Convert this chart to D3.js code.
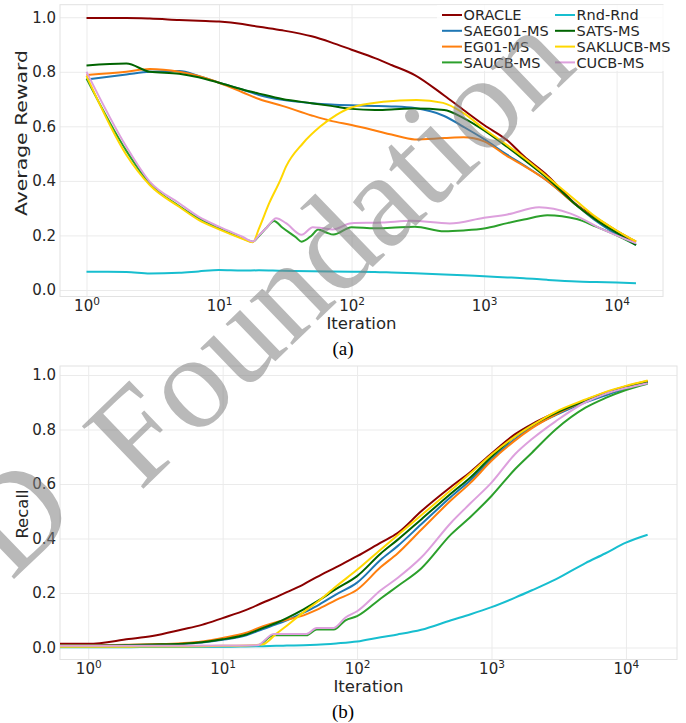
<!DOCTYPE html>
<html>
<head>
<meta charset="utf-8">
<script src="https://cdn.jsdelivr.net/npm/d3@7"></script>
<style>
  body { margin: 0; background: #fff; }
  svg { display: block; }
</style>
</head>
<body>
<div id="chart"></div>
<script>
// ---- data: (a) average reward ----
const iterTop = [1, 2, 3, 5, 7, 10, 15, 20, 30, 50, 70, 100, 150, 200, 300, 500, 700, 1000, 1500, 2000, 3000, 5000, 7000, 10000, 14000];
const rwOracle = [0.997, 0.997, 0.995, 0.99, 0.987, 0.984, 0.975, 0.965, 0.952, 0.93, 0.908, 0.881, 0.85, 0.825, 0.788, 0.713, 0.66, 0.605, 0.548, 0.49, 0.42, 0.312, 0.264, 0.217, 0.177];
const rwSaeg = [0.772, 0.79, 0.80, 0.803, 0.785, 0.76, 0.735, 0.715, 0.697, 0.685, 0.68, 0.677, 0.675, 0.673, 0.667, 0.638, 0.598, 0.553, 0.495, 0.457, 0.40, 0.31, 0.253, 0.204, 0.165];
const rwEg = [0.788, 0.80, 0.81, 0.80, 0.785, 0.76, 0.725, 0.70, 0.675, 0.64, 0.62, 0.605, 0.585, 0.57, 0.552, 0.557, 0.56, 0.545, 0.49, 0.455, 0.40, 0.31, 0.258, 0.213, 0.175];
const rwRnd = [0.067, 0.066, 0.06, 0.063, 0.068, 0.073, 0.071, 0.072, 0.07, 0.069, 0.068, 0.067, 0.066, 0.064, 0.061, 0.057, 0.054, 0.05, 0.046, 0.043, 0.037, 0.031, 0.029, 0.027, 0.025];
const rwSats = [0.823, 0.83, 0.80, 0.793, 0.78, 0.76, 0.735, 0.72, 0.70, 0.685, 0.675, 0.664, 0.66, 0.662, 0.665, 0.66, 0.63, 0.585, 0.524, 0.478, 0.41, 0.31, 0.257, 0.21, 0.165];

const iterTopKl = [1, 2, 3, 5, 7, 10, 15, 18, 20, 24, 29, 32, 43, 58, 77, 97, 173, 310, 490, 695, 980, 1500, 2000, 3000, 5000, 7000, 10000, 14000];
const rwSaklucb = [0.785, 0.495, 0.385, 0.305, 0.257, 0.222, 0.188, 0.175, 0.225, 0.32, 0.403, 0.452, 0.538, 0.599, 0.642, 0.667, 0.69, 0.697, 0.686, 0.649, 0.594, 0.53, 0.485, 0.415, 0.325, 0.267, 0.218, 0.178];

const iterTopUcb = [1, 2, 3, 5, 7, 10, 15, 18, 20, 23, 26, 30, 38, 42, 50, 56, 65, 73, 100, 150, 200, 300, 500, 700, 1000, 1500, 2000, 3000, 5000, 7000, 10000, 14000];
const rwSaucb = [0.775, 0.51, 0.39, 0.308, 0.263, 0.226, 0.19, 0.177, 0.198, 0.23, 0.253, 0.229, 0.193, 0.177, 0.2, 0.222, 0.21, 0.203, 0.23, 0.226, 0.228, 0.232, 0.215, 0.218, 0.225, 0.245, 0.258, 0.274, 0.26, 0.232, 0.2, 0.165];

const iterTopCucb = [1, 2, 3, 5, 7, 10, 15, 18, 20, 23, 27, 32, 42, 51, 60, 72, 100, 170, 280, 550, 1000, 1500, 2600, 4500, 8000, 14000];
const rwCucb = [0.80, 0.525, 0.397, 0.318, 0.269, 0.232, 0.195, 0.178, 0.2, 0.23, 0.263, 0.245, 0.202, 0.23, 0.227, 0.222, 0.245, 0.247, 0.254, 0.244, 0.265, 0.277, 0.303, 0.28, 0.22, 0.171];

// ---- data: (b) recall (first entry is the iteration-0 value) ----
const iterBot = [0.5, 1, 2, 3, 5, 7, 10, 15, 20, 25, 30, 40, 50, 70, 100, 150, 200, 300, 500, 700, 1000, 1500, 2000, 3000, 5000, 7000, 10000, 14500];
const rcOracle = [0.0136, 0.0136, 0.031, 0.042, 0.066, 0.083, 0.108, 0.138, 0.165, 0.185, 0.203, 0.232, 0.258, 0.295, 0.335, 0.385, 0.42, 0.5, 0.59, 0.645, 0.712, 0.783, 0.82, 0.862, 0.908, 0.935, 0.958, 0.975];
const rcSaeg = [0.006, 0.006, 0.008, 0.01, 0.013, 0.018, 0.028, 0.045, 0.068, 0.085, 0.1, 0.128, 0.152, 0.195, 0.238, 0.322, 0.372, 0.452, 0.553, 0.615, 0.69, 0.765, 0.808, 0.853, 0.9, 0.925, 0.95, 0.972];
const rcEg = [0.008, 0.008, 0.01, 0.012, 0.016, 0.022, 0.035, 0.054, 0.078, 0.093, 0.102, 0.118, 0.138, 0.175, 0.212, 0.295, 0.345, 0.432, 0.54, 0.605, 0.685, 0.76, 0.805, 0.855, 0.905, 0.932, 0.958, 0.978];
const rcRnd = [0.001, 0.001, 0.001, 0.002, 0.002, 0.003, 0.003, 0.004, 0.005, 0.006, 0.007, 0.008, 0.01, 0.015, 0.022, 0.038, 0.048, 0.065, 0.1, 0.122, 0.148, 0.183, 0.21, 0.25, 0.31, 0.345, 0.385, 0.414];
const rcSats = [0.007, 0.007, 0.009, 0.011, 0.014, 0.019, 0.03, 0.048, 0.072, 0.09, 0.108, 0.14, 0.168, 0.215, 0.262, 0.345, 0.395, 0.47, 0.565, 0.625, 0.7, 0.775, 0.815, 0.86, 0.905, 0.93, 0.955, 0.975];
const rcSaklucb = [0.003, 0.003, 0.003, 0.004, 0.004, 0.005, 0.006, 0.007, 0.012, 0.05, 0.08, 0.13, 0.165, 0.225, 0.285, 0.36, 0.412, 0.485, 0.578, 0.64, 0.708, 0.775, 0.815, 0.865, 0.91, 0.937, 0.96, 0.98];

const iterBotSteps = [0.5, 1, 5, 10, 18, 24, 42, 50, 67, 82, 100, 150, 200, 300, 500, 700, 1000, 1500, 2000, 3000, 5000, 7000, 10000, 14500];
const rcSaucb = [0.004, 0.004, 0.004, 0.005, 0.006, 0.045, 0.045, 0.066, 0.066, 0.1, 0.115, 0.18, 0.225, 0.29, 0.415, 0.48, 0.556, 0.655, 0.715, 0.8, 0.88, 0.915, 0.945, 0.968];
const rcCucb = [0.006, 0.006, 0.006, 0.007, 0.008, 0.05, 0.05, 0.072, 0.072, 0.11, 0.133, 0.21, 0.255, 0.33, 0.458, 0.53, 0.605, 0.71, 0.765, 0.83, 0.9, 0.93, 0.952, 0.97];

const xTickVals = [1, 10, 100, 1000, 10000];
const yTickVals = [0, 0.2, 0.4, 0.6, 0.8, 1.0];

// plot order = legend order (2 columns, filled column-wise)
const names = ["ORACLE", "SAEG01-MS", "EG01-MS", "SAUCB-MS", "Rnd-Rnd", "SATS-MS", "SAKLUCB-MS", "CUCB-MS"];
const colors = ["#8b0000", "#1f77b4", "#ff7f0e", "#2ca02c", "#17becf", "#006400", "#ffd700", "#dda0dd"];

const topSeries = [
  [iterTop, rwOracle], [iterTop, rwSaeg], [iterTop, rwEg], [iterTopUcb, rwSaucb],
  [iterTop, rwRnd], [iterTop, rwSats], [iterTopKl, rwSaklucb], [iterTopCucb, rwCucb]
];
const botSeries = [
  [iterBot, rcOracle], [iterBot, rcSaeg], [iterBot, rcEg], [iterBotSteps, rcSaucb],
  [iterBot, rcRnd], [iterBot, rcSats], [iterBot, rcSaklucb], [iterBotSteps, rcCucb]
];

const W = 686, H = 723;
const gridColor = "#ebebeb", spineColor = "#e2e2e2", textColor = "#262626";

const svg = d3.select("#chart").append("svg")
  .attr("width", W).attr("height", H)
  .attr("font-family", "'DejaVu Sans', sans-serif");

function panel(id, x, y, series, ylabel, ylabelCfg, caption) {
  const [x0, x1] = x.range();
  const [y0, y1] = y.range();
  const g = svg.append("g");

  // grid
  g.append("g").attr("transform", `translate(0,${y0})`)
    .call(d3.axisBottom(x).tickValues(xTickVals).tickSize(-(y0 - y1)).tickFormat(""))
    .call(a => a.select(".domain").remove())
    .call(a => a.selectAll("line").attr("stroke", gridColor));
  g.append("g").attr("transform", `translate(${x0},0)`)
    .call(d3.axisLeft(y).tickValues(yTickVals).tickSize(-(x1 - x0)).tickFormat(""))
    .call(a => a.select(".domain").remove())
    .call(a => a.selectAll("line").attr("stroke", gridColor));

  g.append("rect")
    .attr("x", x0).attr("y", y1).attr("width", x1 - x0).attr("height", y0 - y1)
    .attr("fill", "none").attr("stroke", spineColor);

  g.append("clipPath").attr("id", id)
    .append("rect").attr("x", x0).attr("y", y1).attr("width", x1 - x0).attr("height", y0 - y1);

  const line = d3.line().curve(d3.curveMonotoneX);
  const lines = g.append("g").attr("clip-path", `url(#${id})`);
  series.forEach(([xs, ys], i) => {
    lines.append("path")
      .attr("d", line(xs.map((v, j) => [x(v), y(ys[j])])))
      .attr("fill", "none")
      .attr("stroke", colors[i])
      .attr("stroke-width", 2)
      .attr("stroke-linejoin", "round");
  });

  // x tick labels with superscript exponent
  const xa = g.append("g").attr("transform", `translate(0,${y0})`)
    .call(d3.axisBottom(x).tickValues(xTickVals).tickSize(0).tickPadding(3.5))
    .attr("font-family", "'DejaVu Sans', sans-serif").attr("font-size", 15).attr("color", textColor);
  xa.select(".domain").remove();
  xa.selectAll(".tick text").text(null).each(function (d) {
    const t = d3.select(this);
    t.append("tspan").text("10");
    t.append("tspan").attr("dy", "-0.5em").attr("font-size", 10.5).text(Math.round(Math.log10(d)));
  });

  const ya = g.append("g").attr("transform", `translate(${x0},0)`)
    .call(d3.axisLeft(y).tickValues(yTickVals).tickSize(0).tickPadding(4).tickFormat(d3.format(".1f")))
    .attr("font-family", "'DejaVu Sans', sans-serif").attr("font-size", 15).attr("color", textColor);
  ya.select(".domain").remove();

  g.append("text")
    .attr("x", (x0 + x1) / 2).attr("y", y0 + 32)
    .attr("text-anchor", "middle").attr("font-size", 16.5).attr("fill", textColor)
    .text("Iteration");

  const yl = g.append("text")
    .attr("transform", `translate(${ylabelCfg.x},${ylabelCfg.y}) rotate(-90)`)
    .attr("text-anchor", "middle").attr("font-size", 16.5).attr("fill", textColor)
    .text(ylabel);
  if (ylabelCfg.len) yl.attr("textLength", ylabelCfg.len).attr("lengthAdjust", "spacingAndGlyphs");

  svg.append("text")
    .attr("x", W / 2).attr("y", y0 + 58)
    .attr("text-anchor", "middle")
    .attr("font-family", "'Liberation Serif', 'Times New Roman', serif")
    .attr("font-size", 19).attr("fill", "#000")
    .text(caption);

  return g;
}

// (a)
const xTop = d3.scaleLog().domain([Math.pow(10, -0.2), Math.pow(10, 4.35)]).range([60, 663]).clamp(true);
const yTop = d3.scaleLinear().domain([-0.024, 1.046]).range([296.5, 4.7]);
const gTop = panel("clipTop", xTop, yTop, topSeries, "Average Reward", { x: 27, y: 133, len: 166 }, "(a)");

// legend
const leg = gTop.append("g");
leg.append("rect").attr("x", 437).attr("y", 5).attr("width", 235).attr("height", 66)
  .attr("fill", "#fff").attr("opacity", 0.8);
names.forEach((n, i) => {
  const col = Math.floor(i / 4), row = i % 4;
  const lx = col === 0 ? 442 : 555;
  const ly = 15 + row * 15.8;
  leg.append("line").attr("x1", lx).attr("x2", lx + 20).attr("y1", ly).attr("y2", ly)
    .attr("stroke", colors[i]).attr("stroke-width", 2);
  leg.append("text").attr("x", lx + 21.5).attr("y", ly).attr("dy", "0.36em")
    .attr("font-size", 14.5).attr("fill", textColor).text(n);
});

// (b)
const xBot = d3.scaleLog().domain([Math.pow(10, -0.21), Math.pow(10, 4.38)]).range([60, 677]).clamp(true);
const yBot = d3.scaleLinear().domain([-0.044, 1.033]).range([659.5, 366]);
panel("clipBot", xBot, yBot, botSeries, "Recall", { x: 28, y: 514 }, "(b)");

// watermark
const wm = svg.append("text")
  .attr("transform", "translate(140,492) rotate(-44)")
  .attr("font-family", "'Liberation Serif', 'Times New Roman', serif")
  .attr("font-size", 134)
  .attr("fill", "#808080").attr("opacity", 0.55);
wm.append("tspan").attr("x", -155).attr("y", -25).text("D");
wm.append("tspan").attr("x", 0).attr("y", 0).text("Foundation");
</script>
</body>
</html>
